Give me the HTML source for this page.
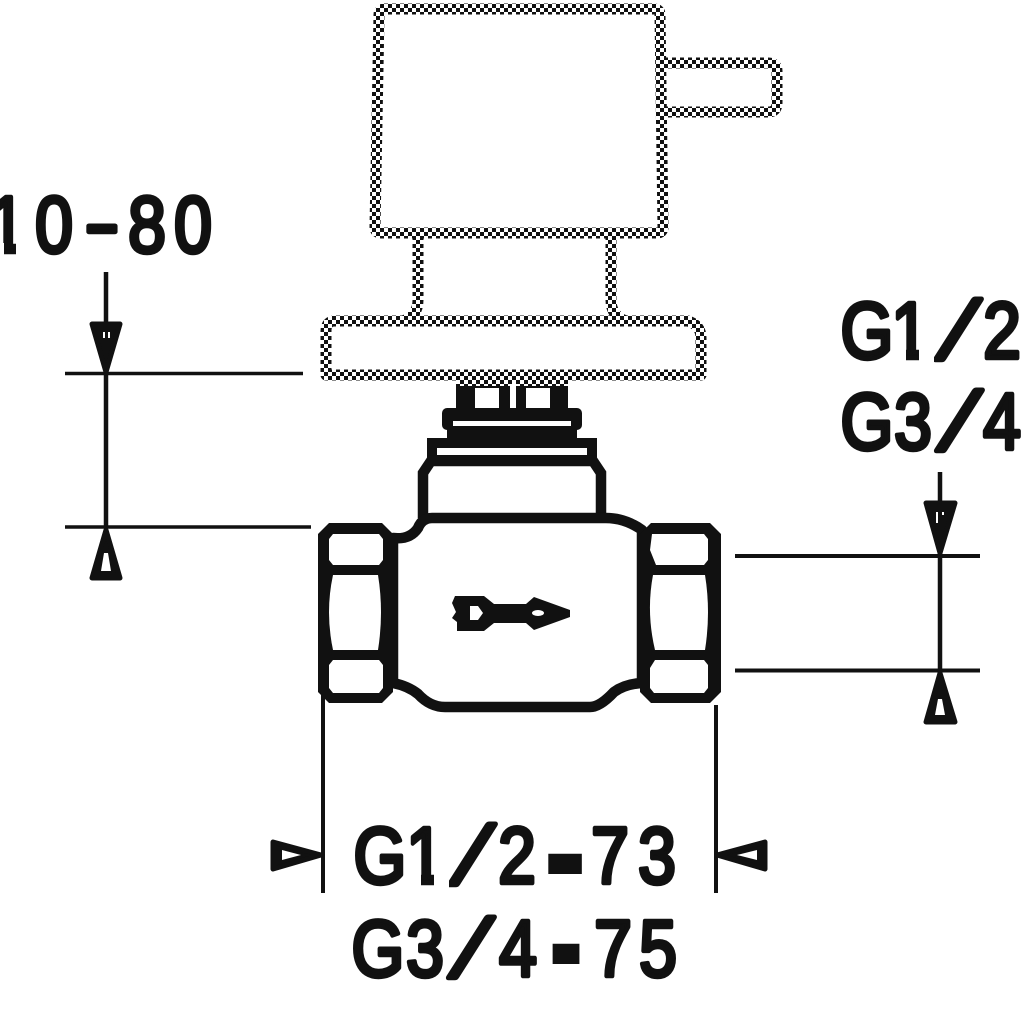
<!DOCTYPE html>
<html>
<head>
<meta charset="utf-8">
<style>
html,body{margin:0;padding:0;background:#fff;width:1024px;height:1024px;overflow:hidden}
svg{display:block}
text{font-family:"Liberation Sans",sans-serif;font-weight:400;font-size:80px;fill:#111;stroke:#111;stroke-width:4.500;text-anchor:middle;stroke-linejoin:round}
text.block{stroke-width:14;stroke-linejoin:miter}
text.sl{stroke-width:7}
</style>
</head>
<body>
<svg width="1024" height="1024" viewBox="0 0 1024 1024" xmlns="http://www.w3.org/2000/svg">
<defs>
<pattern id="chk" width="8" height="8" patternUnits="userSpaceOnUse">
<rect width="8" height="8" fill="#fff"/>
<rect width="4" height="4" fill="#111"/>
<rect x="4" y="4" width="4" height="4" fill="#111"/>
</pattern>
</defs>
<rect width="1024" height="1024" fill="#fff"/>

<!-- dithered upper parts -->
<g fill="none" stroke="url(#chk)" stroke-width="11" stroke-linejoin="round">
<path d="M418 238V300Q418 316 403 321M611 238V300Q611 316 626 321"/>
<path d="M662 63H768Q777 63 777 71V103Q777 112 768 112H662"/>
<path d="M385 9H654Q660 9 660 15L663 227Q663 233 657 233H381Q375 233 375 227L379 15Q379 9 385 9Z"/>
<path d="M335 321H688Q701 325 701 338V375H326V331Q326 321 335 321Z"/>
</g>
<rect x="456" y="380" width="112" height="7" fill="url(#chk)"/>

<!-- stem and collars -->
<g fill="#111">
<rect x="456" y="386" width="112" height="25"/>
<rect x="442" y="408" width="140" height="22" rx="5"/>
<rect x="447" y="428" width="130" height="12"/>
<rect x="427" y="438" width="170" height="20"/>
</g>
<g fill="#fff">
<rect x="475" y="388" width="24" height="20"/>
<rect x="526" y="388" width="24" height="20"/>
<rect x="510" y="384" width="6" height="24"/>
<rect x="453" y="421" width="118" height="5"/>
<rect x="437" y="448" width="150" height="7"/>
</g>
<path d="M423 518V473L431 461H593L601 473V518" fill="#fff" stroke="#111" stroke-width="10.500"/>

<!-- valve body -->
<path d="M393 538Q410 540 418 528Q422 518 432 518H606Q625 518 642 530V683Q625 684 614 692Q600 707 590 707H445Q430 707 418 694Q408 686 393 683Z" fill="#fff" stroke="#111" stroke-width="10.500" stroke-linejoin="round"/>

<!-- nuts -->
<path d="M329 523H382L393 534V692L382 703H329L318 692V534Z" fill="#111"/>
<path d="M651 523H710L721 534V692L710 703H651L640 692V534Z" fill="#111"/>
<g fill="#fff">
<path d="M333 534H379L383 539V560L379 565H333L329 560V539Z"/>
<path d="M333 575H378Q384 612 378 650H333Q325 612 333 575Z"/>
<path d="M333 660H379L383 665V688L379 693H333L329 688V665Z"/>
<path d="M652 534H704L708 539V560L704 565H656L650 550Z"/>
<path d="M653 575H705Q711 612 705 650H655Q646 612 653 575Z"/>
<path d="M655 660H704L708 665V688L704 693H654L650 688V668Z"/>
</g>

<!-- flow symbol -->
<path d="M455 596H484L494 604H526L534 597L570 610V617L534 630L526 623H494L484 631H457V622L452 618L456 612L452 603Z" fill="#111"/>
<path d="M470 606H478L483 613L478 620H470Z" fill="#fff"/>
<ellipse cx="538" cy="613" rx="6" ry="3" fill="#fff"/>

<!-- dimension lines -->
<g stroke="#111" fill="none">
<path d="M106 272V527" stroke-width="4.500"/>
<path d="M65 373.500H303M65 527H311" stroke-width="3.500"/>
<path d="M940 472V670" stroke-width="4.500"/>
<path d="M735 556H980M735 670.500H980" stroke-width="4"/>
<path d="M323 695V893M716 705V893" stroke-width="4"/>
</g>

<!-- arrowheads -->
<g fill="#111" stroke="#111" stroke-width="5" stroke-linejoin="round">
<path d="M92 324H120L106 372Z"/>
<path d="M106 530L120 578H92Z"/>
<path d="M926 503H955L940 553Z"/>
<path d="M940 673L955 722H926Z"/>
<path d="M273 842L321 855L273 869Z"/>
<path d="M765 842L717 855L765 869Z"/>
</g>
<g fill="#fff">
<rect x="103" y="332" width="2" height="6"/><rect x="108" y="332" width="2" height="6"/>
<path d="M104 553H108L111 571H101Z"/>
<rect x="936" y="512" width="2" height="11"/><rect x="942" y="512" width="2" height="3"/>
<path d="M938 699H942L945 715H935Z"/>
<path d="M282 850L301 855L282 860Z"/>
<path d="M757 850L737 855L757 860Z"/>
</g>

<!-- labels: 10-80 -->
<text transform="translate(7,252) scale(.85,1)">1</text>
<text transform="translate(54,252) scale(.85,1)">0</text>
<text transform="translate(102,250) scale(1.300,1)">-</text>
<text transform="translate(147,252) scale(.85,1)">8</text>
<text transform="translate(193,252) scale(.85,1)">0</text>

<!-- G1/2 G3/4 right -->
<text transform="translate(867,358) scale(.85,1)">G</text>
<text transform="translate(910,358) scale(.85,1)">1</text>
<text class="sl" transform="translate(948,358) skewX(-20)">/</text>
<text transform="translate(1002,358) scale(.85,1)">2</text>
<text transform="translate(867,449) scale(.85,1)">G</text>
<text transform="translate(913,449) scale(.85,1)">3</text>
<text class="sl" transform="translate(949,449) skewX(-20)">/</text>
<text transform="translate(1002,449) scale(.85,1)">4</text>

<!-- G1/2-73 -->
<text transform="translate(380,883) scale(.85,1)">G</text>
<text transform="translate(425,883) scale(.85,1)">1</text>
<text class="sl" transform="translate(462,883) skewX(-20)">/</text>
<text transform="translate(517,883) scale(.85,1)">2</text>
<text class="block" transform="translate(565,885)">-</text>
<text transform="translate(610,883) scale(.85,1)">7</text>
<text transform="translate(657,883) scale(.85,1)">3</text>

<!-- G3/4-75 -->
<text transform="translate(378,976) scale(.85,1)">G</text>
<text transform="translate(425,976) scale(.85,1)">3</text>
<text class="sl" transform="translate(461,976) skewX(-20)">/</text>
<text transform="translate(518,976) scale(.85,1)">4</text>
<text class="block" transform="translate(566,975) scale(.8,1)">-</text>
<text transform="translate(613,976) scale(.85,1)">7</text>
<text transform="translate(658,976) scale(.85,1)">5</text>

<!-- trim the foot of each numeral 1 to match the drawing's plain stem -->
<g fill="#fff">
<rect x="0" y="243" width="4" height="14"/><rect x="16" y="243" width="15" height="14"/>
<rect x="894" y="348" width="12" height="15"/><rect x="919" y="348" width="15" height="15"/>
<rect x="405" y="873" width="16" height="15"/><rect x="434" y="873" width="15" height="15"/>
</g>
</svg>
</body>
</html>
